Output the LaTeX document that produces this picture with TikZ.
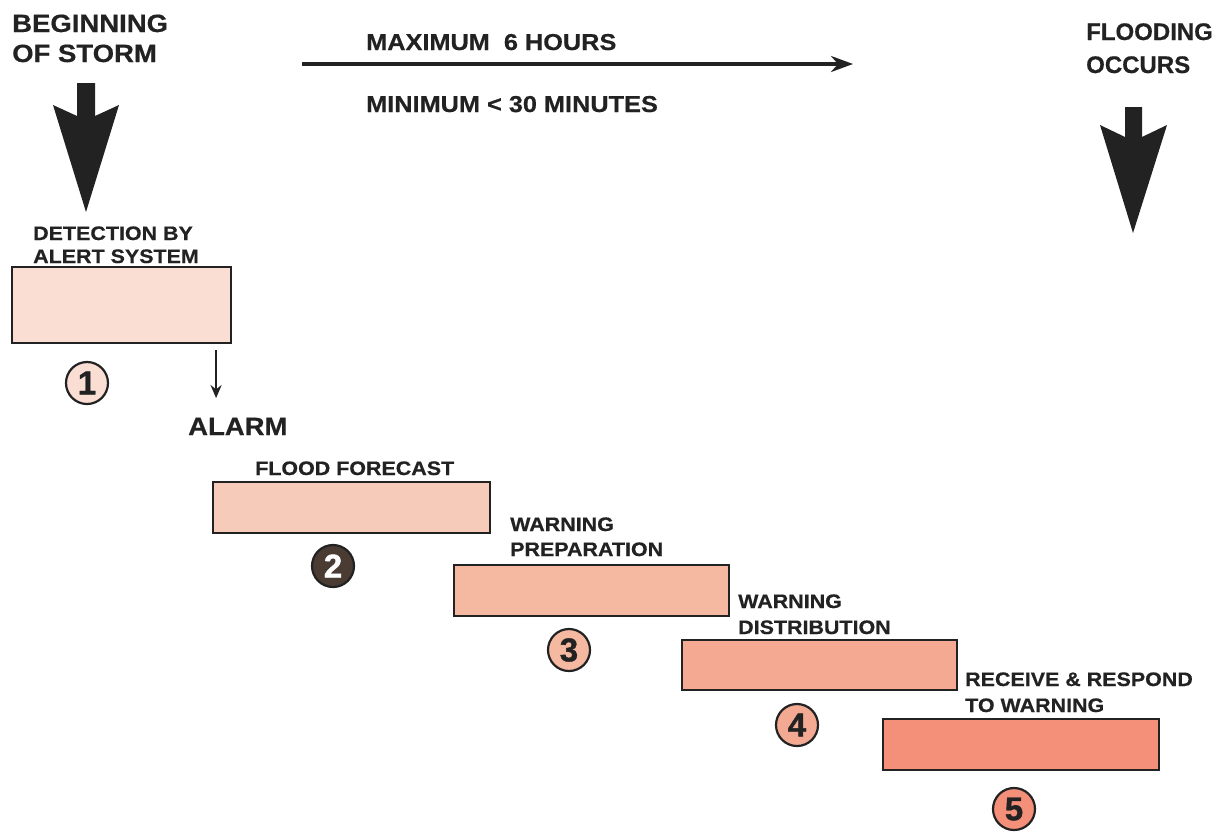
\documentclass[tikz,border=0pt]{standalone}
\usepackage{fontspec}
\setmainfont{Liberation Sans}
\newfontfamily\wfont[FakeStretch=1.1,FakeBold=0.5]{Liberation Sans}
\newfontfamily\nfont[FakeBold=1.2]{Liberation Sans}
\newfontfamily\hfont[FakeBold=0.5]{Liberation Sans}
\usetikzlibrary{arrows.meta}
\definecolor{ink}{HTML}{222222}
\definecolor{fa}{HTML}{FADDD3}
\definecolor{fb}{HTML}{F6CBB9}
\definecolor{fc}{HTML}{F5B9A2}
\definecolor{fd}{HTML}{F4AA92}
\definecolor{fe}{HTML}{F4907A}
\definecolor{dk}{HTML}{4A3B33}
\begin{document}
\begin{tikzpicture}[x=1pt,y=-1pt,
  lbl/.style={anchor=base west, inner sep=0pt, text=ink, font=\wfont\bfseries\fontsize{19.5}{22}\selectfont},
  big/.style={lbl, font=\wfont\bfseries\fontsize{25}{28}\selectfont},
  mid/.style={lbl, font=\wfont\bfseries\fontsize{23}{26}\selectfont},
  stagebox/.style={draw=ink, line width=2.2pt, inner sep=0pt, rectangle},
  num/.style={circle, draw=ink, line width=2.2pt, minimum size=42pt, inner sep=0pt, text=ink, font=\nfont\bfseries\fontsize{33}{33}\selectfont},
  bigarrow/.style={fill=ink, draw=none},
  sarrow/.style={draw=ink, line width=2.4pt, -{Stealth[length=13pt,width=11pt]}}
]
\useasboundingbox (0,0) rectangle (1222,831);
\fill[white] (0,0) rectangle (1222,831);

% top labels
\node[big] (beg1) at (12,32) {BEGINNING};
\node[big] (beg2) at (12,62) {OF STORM};
\node[big, font=\hfont\bfseries\fontsize{24}{26}\selectfont] (fl1) at (1086,40) {FLOODING};
\node[big, font=\hfont\bfseries\fontsize{24}{26}\selectfont] (fl2) at (1086,73) {OCCURS};
\node[mid] (max) at (366,50) {MAXIMUM\ \ 6 HOURS};
\node[mid] (min) at (366,112) {MINIMUM < 30 MINUTES};

% time arrow
\coordinate (ts) at (302,64);
\coordinate (te) at (853,64);
\draw[ink, line width=3.2pt, -{Stealth[length=22pt,width=16pt,inset=7pt]}] (ts) -- (te);

% big arrows
\fill[bigarrow] (77,83) -- (95,83) -- (95,116) -- (119,105) -- (86,212) -- (53,105) -- (77,116) -- cycle;
\fill[bigarrow] (1125,107) -- (1142,107) -- (1142,137) -- (1167,125) -- (1133,233) -- (1100,125) -- (1125,137) -- cycle;

% stage 1
\node[lbl] (t1a) at (33,240) {DETECTION BY};
\node[lbl] (t1b) at (33,263) {ALERT SYSTEM};
\node[stagebox, fill=fa, minimum width=219pt, minimum height=76pt] (b1) at (121.5,305) {};
\node[num, fill=fa] (c1) at (87,383) {1};
\draw[sarrow] ([xshift=-16pt,yshift=-6pt]b1.south east) coordinate (as) -- ++(0,48) coordinate (ae);
\node[big] (alarm) at (188,435) {ALARM};

% stage 2
\node[lbl] (t2) at (255,475) {FLOOD FORECAST};
\node[stagebox, fill=fb, minimum width=277pt, minimum height=51pt] (b2) at (351.5,507.5) {};
\node[num, fill=dk, text=white] (c2) at (333,566) {2};

% stage 3
\node[lbl] (t3a) at (510,531) {WARNING};
\node[lbl] (t3b) at (510,556) {PREPARATION};
\node[stagebox, fill=fc, minimum width=275pt, minimum height=51pt] (b3) at (591.5,590.5) {};
\node[num, fill=fc] (c3) at (569,650) {3};

% stage 4
\node[lbl] (t4a) at (738,608) {WARNING};
\node[lbl] (t4b) at (738,634) {DISTRIBUTION};
\node[stagebox, fill=fd, minimum width=275pt, minimum height=50pt] (b4) at (819.5,665) {};
\node[num, fill=fd] (c4) at (797,725) {4};

% stage 5
\node[lbl] (t5a) at (965,686) {RECEIVE \& RESPOND};
\node[lbl] (t5b) at (965,712) {TO WARNING};
\node[stagebox, fill=fe, minimum width=276pt, minimum height=51pt] (b5) at (1021,744.5) {};
\node[num, fill=fe] (c5) at (1014,809) {5};
\end{tikzpicture}
\end{document}
